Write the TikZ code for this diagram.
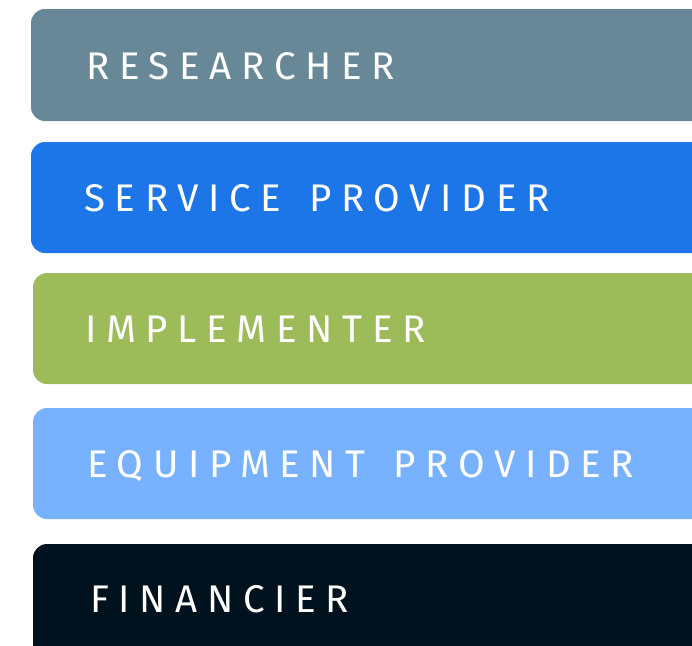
\documentclass[tikz,border=0pt]{standalone}
\usepackage{fontspec}
\newfontfamily\rolefont{Fira Sans}[LetterSpace=25,WordSpace=1.4]
\definecolor{researchgray}{RGB}{104,136,152}
\definecolor{serviceblue}{RGB}{29,118,232}
\definecolor{implgreen}{RGB}{158,187,90}
\definecolor{equiplight}{RGB}{120,178,254}
\definecolor{financedark}{RGB}{1,18,31}
\tikzset{
  rolebar/.style={rounded corners=14pt},
  rolename/.style={anchor=base west,inner sep=0pt,text=white,
    font=\rolefont\fontsize{38.5}{40}\selectfont}
}
\begin{document}
\begin{tikzpicture}[x=1pt,y=-1pt]
		\useasboundingbox (0,0) rectangle (692,645);
		\clip (0,0) rectangle (692,645);
		% bars, cut off at the right edge
		\fill [rolebar,researchgray] (31,9) rectangle (730,121);
		\fill [rolebar,serviceblue] (31,142) rectangle (730,253);
		\fill [rolebar,implgreen] (33,273) rectangle (730,384);
		\fill [rolebar,equiplight] (33,408) rectangle (730,519);
		\fill [rolebar,financedark] (33,544) rectangle (730,680);
		% names
		\node [rolename] (researcher) at (86,79) {RESEARCHER};
		\node [rolename] (service) at (84,211) {SERVICE PROVIDER};
		\node [rolename] (implementer) at (85,342) {IMPLEMENTER};
		\node [rolename] (equipment) at (87,477) {EQUIPMENT PROVIDER};
		\node [rolename] (financier) at (90,612) {FINANCIER};
		\end{tikzpicture}
\end{document}
